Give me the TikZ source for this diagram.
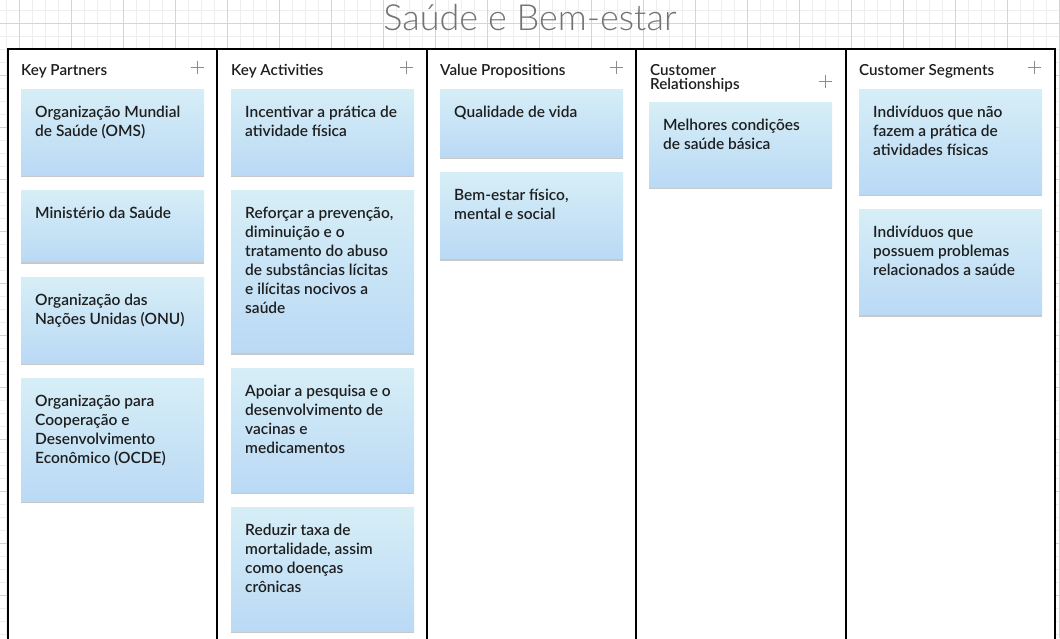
\documentclass[tikz,border=0pt]{standalone}
\usepackage{fontspec}
\setmainfont{Lato}
\IfFontExistsTF{Lato Semibold}
  {\newfontfamily\notefont{Lato Semibold}\newcommand{\notesize}{15.5}}
  {\newfontfamily\notefont{Lato}\newcommand{\notesize}{16}}
\IfFontExistsTF{Lato Light}
  {\newfontfamily\titlefont{Lato Light}}
  {\newfontfamily\titlefont{Lato}}
\usetikzlibrary{positioning,shadows}

\definecolor{notetop}{RGB}{214,238,246}
\definecolor{notebottom}{RGB}{186,217,245}
\definecolor{gridminor}{RGB}{238,238,238}
\definecolor{gridmajor}{RGB}{212,212,212}
\definecolor{inktext}{RGB}{30,30,30}

% note text, top aligned in a box of fixed height
\newcommand{\notebody}[2]{\parbox[t][#1pt][t]{155pt}{\raggedright\strut #2}}

\begin{document}
\begin{tikzpicture}
[
x=1pt, y=-1pt,
stickynote/.style={rectangle, anchor=north west, inner xsep=14pt, inner ysep=15pt,
  top color=notetop, bottom color=notebottom, text=inktext,
  font=\notefont\fontsize{\notesize}{19}\selectfont,
  drop shadow={shadow xshift=0pt, shadow yshift=-2pt, opacity=0.3, fill=black!70}},
headline/.style={anchor=north west, inner sep=0pt, align=left, text=inktext,
  font=\notefont\fontsize{15.2}{14}\selectfont},
node distance=15pt
]
\useasboundingbox (0,0) rectangle (1060,638);
\path[clip] (0,0) rectangle (1060,638);

% background grid
\foreach \gx in {6.5,19.5,...,1060} \draw[gridminor] (\gx,0) -- (\gx,638);
\foreach \gy in {10.5,23.5,...,638} \draw[gridminor] (0,\gy) -- (1060,\gy);
\foreach \gx in {19.5,71.5,...,1060} \draw[gridmajor] (\gx,0) -- (\gx,638);
\foreach \gy in {23.5,75.5,...,638} \draw[gridmajor] (0,\gy) -- (1060,\gy);

\node[text=black!55, font=\titlefont\fontsize{36}{36}\selectfont] (title) at (530,18) {Saúde e Bem-estar};

% canvas frame and columns
\draw[line width=2pt, fill=white] (8,49) rectangle (1055,645);
\foreach \cx in {217,427,636,846} \draw[line width=1.5pt] (\cx,49) -- (\cx,645);

\node[headline] (hkp) at (21,64)  {Key Partners};
\node[headline] (hka) at (231,64) {Key Activities};
\node[headline] (hvp) at (440,64) {Value Propositions};
\node[headline] (hcr) at (650,64) {Customer\\Relationships};
\node[headline] (hcs) at (859,64) {Customer Segments};
\foreach \px/\py in {197/67,406/67,616/67,825/81,1034/67}
  \draw[black!45, line width=1pt] (\px-6.5,\py) -- (\px+6.5,\py) (\px,\py-6.5) -- (\px,\py+6.5);

% Key Partners
\node[stickynote] (kp1) at (21,89) {\notebody{56}{Organização Mundial\\de Saúde (OMS)}};
\node[stickynote] (kp2) [below=of kp1.south west, anchor=north west] {\notebody{41}{Ministério da Saúde}};
\node[stickynote] (kp3) [below=of kp2.south west, anchor=north west] {\notebody{56}{Organização das\\Nações Unidas (ONU)}};
\node[stickynote] (kp4) [below=of kp3.south west, anchor=north west] {\notebody{93}{Organização para\\Cooperação e\\Desenvolvimento\\Econômico (OCDE)}};

% Key Activities
\node[stickynote] (ka1) at (231,89) {\notebody{56}{Incentivar a prática de\\atividade física}};
\node[stickynote] (ka2) [below=of ka1.south west, anchor=north west] {\notebody{132}{Reforçar a prevenção,\\diminuição e o\\tratamento do abuso\\de substâncias lícitas\\e ilícitas nocivos a\\saúde}};
\node[stickynote] (ka3) [below=of ka2.south west, anchor=north west] {\notebody{94}{Apoiar a pesquisa e o\\desenvolvimento de\\vacinas e\\medicamentos}};
\node[stickynote] (ka4) [below=of ka3.south west, anchor=north west] {\notebody{94}{Reduzir taxa de\\mortalidade, assim\\como doenças\\crônicas}};

% Value Propositions
\node[stickynote] (vp1) at (440,89) {\notebody{38}{Qualidade de vida}};
\node[stickynote] (vp2) [below=of vp1.south west, anchor=north west] {\notebody{56}{Bem-estar físico,\\mental e social}};

% Customer Relationships
\node[stickynote] (cr1) at (649,102) {\notebody{55}{Melhores condições\\de saúde básica}};

% Customer Segments
\node[stickynote] (cs1) at (859,89) {\notebody{75}{Indivíduos que não\\fazem a prática de\\atividades físicas}};
\node[stickynote] (cs2) [below=of cs1.south west, anchor=north west] {\notebody{75}{Indivíduos que\\possuem problemas\\relacionados a saúde}};
\end{tikzpicture}
\end{document}
